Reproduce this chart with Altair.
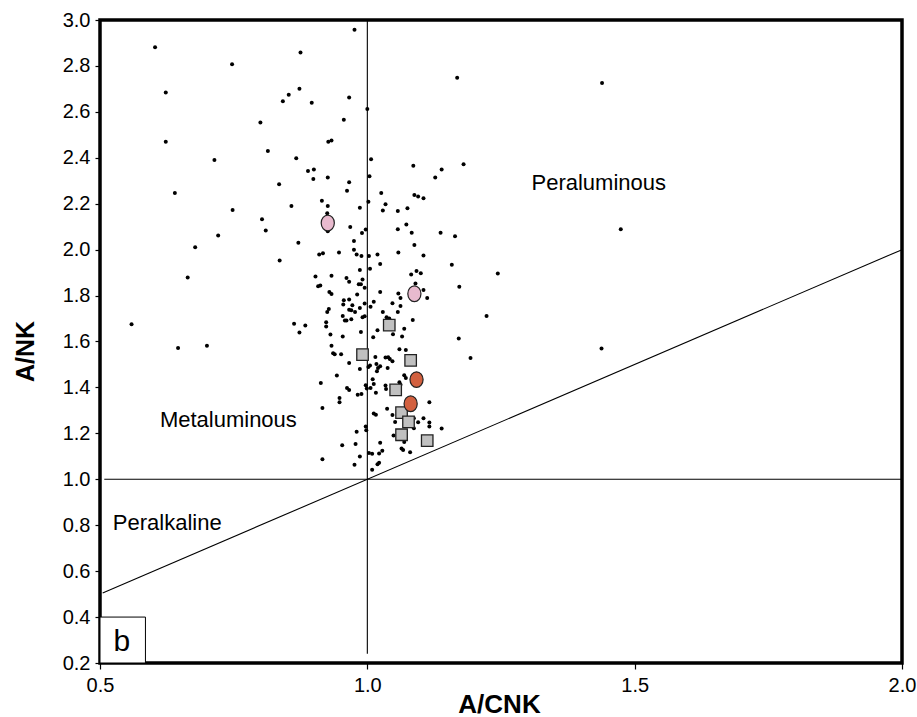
import altair as alt
import pandas as pd

# ---- data ----
dot_x = [0.603, 0.976, 0.747, 0.875, 0.623, 0.873, 0.853, 0.842, 0.896, 0.966,
         1.000, 0.800, 0.956, 0.623, 0.814, 0.927, 0.933, 0.714, 0.867, 1.007,
         0.889, 0.900, 0.899, 0.926, 1.004, 0.640, 0.835, 0.966, 0.962, 1.026,
         1.034, 1.029, 0.915, 0.926, 0.858, 1.002, 0.986, 0.748, 0.925, 0.926,
         0.803, 0.810, 0.721, 0.968, 0.990, 0.997, 0.871, 0.678, 0.975,
         1.168, 1.086, 1.139, 1.180, 1.127, 1.088, 1.095, 1.105, 1.057, 1.075,
         1.073, 1.057, 1.083, 1.137, 1.164, 1.088, 0.975,
         1.439,
         1.474, 1.058, 1.105, 1.158, 1.244, 1.024, 1.082, 1.092, 1.100, 1.024,
         1.105, 1.112, 1.172, 1.058, 1.062, 1.047, 1.062, 1.029, 1.057, 1.036,
         1.041, 1.223, 1.085, 1.069, 1.048, 1.065, 1.171, 1.060, 1.072, 1.438,
         0.910, 0.917, 0.947, 0.980, 0.989, 1.003, 1.019, 0.836, 0.986, 1.005,
         0.903, 0.933, 0.961, 0.966, 0.908, 0.912, 0.984, 0.988, 0.991, 0.995,
         1.090, 0.929, 0.933, 0.981, 0.956, 0.966, 0.995, 1.012, 0.972, 0.955,
         0.928, 0.925, 0.966, 0.970, 0.977, 0.986, 1.006, 0.954, 0.958, 0.961,
         0.970, 0.991, 0.995, 0.863, 0.884, 0.873, 0.923, 0.923, 1.019, 0.988,
         0.931, 0.954, 1.011, 0.933, 0.936, 0.939, 0.951, 1.015, 1.034, 1.039,
         1.042, 1.047, 1.193, 0.966, 1.002, 1.005, 1.017, 1.020, 1.024, 1.018,
         1.038, 0.986, 1.069, 1.072, 0.943, 1.010, 1.012, 0.913, 1.060, 1.062,
         0.962, 0.966, 0.997, 0.999, 1.006, 0.982, 0.989, 1.016, 1.034, 1.035,
         1.116, 0.948, 0.948, 0.916, 1.037, 1.047, 1.012, 1.016, 1.087, 1.105,
         1.116, 1.095, 1.116, 1.087, 1.052, 1.139, 0.997, 0.998, 0.980, 1.049,
         1.067, 1.069, 1.024, 0.953, 0.978, 1.064, 1.067, 1.080, 1.003, 1.009,
         1.022, 1.028, 0.916, 0.986, 1.019, 1.022, 0.976, 1.009,
         0.664, 0.559, 0.646, 0.700]
dot_y = [2.881, 2.957, 2.807, 2.858, 2.684, 2.701, 2.675, 2.646, 2.640, 2.662,
         2.612, 2.554, 2.566, 2.470, 2.430, 2.470, 2.475, 2.390, 2.398, 2.394,
         2.342, 2.349, 2.308, 2.314, 2.320, 2.247, 2.285, 2.294, 2.256, 2.247,
         2.198, 2.170, 2.213, 2.190, 2.190, 2.209, 2.182, 2.173, 2.158, 2.080,
         2.132, 2.083, 2.062, 2.099, 2.072, 2.088, 2.030, 2.010, 2.038,
         2.749, 2.365, 2.349, 2.372, 2.314, 2.238, 2.231, 2.224, 2.168, 2.180,
         2.109, 2.089, 2.074, 2.074, 2.058, 2.020, 2.000,
         2.726,
         2.089, 1.988, 1.975, 1.934, 1.896, 1.938, 1.892, 1.907, 1.897, 1.816,
         1.824, 1.789, 1.838, 1.809, 1.789, 1.767, 1.755, 1.728, 1.728, 1.706,
         1.700, 1.711, 1.694, 1.655, 1.632, 1.622, 1.613, 1.566, 1.563, 1.569,
         1.979, 1.984, 1.988, 1.979, 1.972, 1.972, 1.979, 1.953, 1.911, 1.917,
         1.883, 1.886, 1.877, 1.860, 1.841, 1.844, 1.849, 1.849, 1.870, 1.834,
         1.853, 1.816, 1.807, 1.805, 1.780, 1.783, 1.766, 1.773, 1.758, 1.761,
         1.741, 1.729, 1.738, 1.736, 1.728, 1.746, 1.751, 1.711, 1.691, 1.691,
         1.697, 1.706, 1.710, 1.677, 1.670, 1.639, 1.684, 1.665, 1.649, 1.641,
         1.630, 1.622, 1.618, 1.582, 1.549, 1.545, 1.545, 1.533, 1.530, 1.531,
         1.524, 1.514, 1.528, 1.506, 1.489, 1.495, 1.502, 1.485, 1.492, 1.470,
         1.485, 1.480, 1.453, 1.441, 1.452, 1.436, 1.415, 1.419, 1.423, 1.412,
         1.397, 1.389, 1.409, 1.395, 1.397, 1.368, 1.371, 1.377, 1.408, 1.393,
         1.335, 1.354, 1.336, 1.310, 1.307, 1.280, 1.287, 1.281, 1.266, 1.266,
         1.247, 1.248, 1.230, 1.222, 1.249, 1.221, 1.230, 1.214, 1.207, 1.191,
         1.183, 1.162, 1.159, 1.148, 1.154, 1.134, 1.127, 1.118, 1.115, 1.111,
         1.112, 1.124, 1.087, 1.099, 1.066, 1.072, 1.063, 1.042,
         1.879, 1.675, 1.572, 1.581]

square_x = [1.041, 0.991, 1.081, 1.053, 1.064, 1.077, 1.064, 1.112]
square_y = [1.671, 1.543, 1.518, 1.389, 1.290, 1.250, 1.194, 1.168]

pink_x = [0.926, 1.088]
pink_y = [2.116, 1.808]

red_x = [1.092, 1.081]
red_y = [1.434, 1.329]

x_ticks = [0.5, 1.0, 1.5, 2.0]
y_ticks = [0.2, 0.4, 0.6, 0.8, 1.0, 1.2, 1.4, 1.6, 1.8, 2.0, 2.2, 2.4, 2.6, 2.8, 3.0]

# reference lines: (x, y) -> (x2, y2)
line_x = [1.0, 0.508, 0.505]
line_y = [0.24, 1.0, 0.505]
line_x2 = [1.0, 2.0, 2.0]
line_y2 = [3.0, 1.0, 2.0]

label_text = ["Peraluminous", "Metaluminous", "Peralkaline"]
label_x = [1.307, 0.612, 0.524]
label_y = [2.289, 1.256, 0.809]

FONT = "Liberation Sans"

xs = alt.Scale(domain=[0.5, 2.0], nice=False, zero=False)
ys = alt.Scale(domain=[0.2, 3.0], nice=False, zero=False)

x_axis = alt.Axis(values=x_ticks, format=".1f", title="A/CNK", grid=False, domain=False,
                  tickSize=6, tickColor="black", tickWidth=1.2, labelFontSize=20,
                  labelFont=FONT, labelColor="black", labelPadding=6, labelFlush=False,
                  labelOverlap=False, titleFont=FONT, titleFontSize=26, titleFontWeight="bold",
                  titleColor="black", titleX=399, titleY=49, titleBaseline="alphabetic",
                  titleAlign="center")
y_axis = alt.Axis(values=y_ticks, format=".1f", title="A/NK", grid=False, domain=False,
                  tickSize=5, tickColor="black", tickWidth=1.2, labelFontSize=20,
                  labelFont=FONT, labelColor="black", labelPadding=5, labelFlush=False,
                  labelOverlap=False, titleFont=FONT, titleFontSize=25, titleFontWeight="bold",
                  titleColor="black", titleX=-75, titleY=331, titleAngle=270,
                  titleBaseline="middle", titleAlign="center")

lines_df = pd.DataFrame({"x": line_x, "y": line_y, "x2": line_x2, "y2": line_y2})
lines = alt.Chart(lines_df).mark_rule(color="black", strokeWidth=1.1).encode(
    x=alt.X("x:Q", scale=xs, axis=x_axis),
    y=alt.Y("y:Q", scale=ys, axis=y_axis),
    x2="x2:Q", y2="y2:Q")

dots_df = pd.DataFrame({"x": dot_x, "y": dot_y})
dots = alt.Chart(dots_df).mark_point(filled=True, shape="circle", size=16, color="black",
                                     opacity=1).encode(
    x=alt.X("x:Q", scale=xs), y=alt.Y("y:Q", scale=ys))

ELLIPSE = "M0,-1 A0.84,1 0 1,1 0,1 A0.84,1 0 1,1 0,-1 Z"

sq_df = pd.DataFrame({"x": square_x, "y": square_y})
squares = alt.Chart(sq_df).mark_point(shape="square", size=132, filled=True, fill="#C0C0C0",
                                      stroke="#222222", strokeWidth=1.3, opacity=1).encode(
    x=alt.X("x:Q", scale=xs), y=alt.Y("y:Q", scale=ys))

pink_df = pd.DataFrame({"x": pink_x, "y": pink_y})
pinks = alt.Chart(pink_df).mark_point(shape=ELLIPSE, size=245, filled=True, fill="#E8BACE",
                                      stroke="#222222", strokeWidth=1.2, opacity=1).encode(
    x=alt.X("x:Q", scale=xs), y=alt.Y("y:Q", scale=ys))

red_df = pd.DataFrame({"x": red_x, "y": red_y})
reds = alt.Chart(red_df).mark_point(shape=ELLIPSE, size=245, filled=True, fill="#D2603F",
                                    stroke="#222222", strokeWidth=1.2, opacity=1).encode(
    x=alt.X("x:Q", scale=xs), y=alt.Y("y:Q", scale=ys))

lab_df = pd.DataFrame({"t": label_text, "x": label_x, "y": label_y})
labels = alt.Chart(lab_df).mark_text(align="left", baseline="middle", fontSize=22,
                                     font=FONT, color="black").encode(
    x=alt.X("x:Q", scale=xs), y=alt.Y("y:Q", scale=ys), text="t:N")

box_df = pd.DataFrame({"x": [0.5], "x2": [0.585], "y": [0.2], "y2": [0.4]})
box = alt.Chart(box_df).mark_rect(fill="white", stroke="black", strokeWidth=1).encode(
    x=alt.X("x:Q", scale=xs), x2="x2:Q", y=alt.Y("y:Q", scale=ys), y2="y2:Q")

b_df = pd.DataFrame({"t": ["b"], "x": [0.541], "y": [0.293]})
btext = alt.Chart(b_df).mark_text(align="center", baseline="middle", fontSize=30,
                                  font=FONT, color="black").encode(
    x=alt.X("x:Q", scale=xs), y=alt.Y("y:Q", scale=ys), text="t:N")

chart = alt.layer(lines, box, btext, dots, squares, pinks, reds, labels).properties(
    width=802, height=643,
    autosize=alt.AutoSizeParams(type="none"),
    padding={"left": 100, "top": 20, "right": 15, "bottom": 54},
    background="white",
).configure_view(stroke="black", strokeWidth=3.5)

chart.save("out.html", embed_options={"renderer": "svg", "actions": False})
